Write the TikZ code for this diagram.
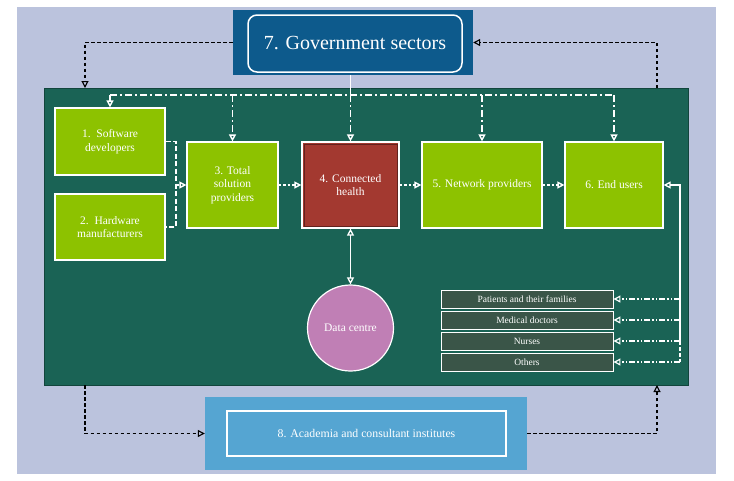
\documentclass[tikz,border=0pt]{standalone}
\usepackage{fontspec}
\setmainfont{Liberation Serif}
\usetikzlibrary{arrows.meta}
\definecolor{bgl}{HTML}{BBC3DD}
\definecolor{panel}{HTML}{1A6355}
\definecolor{lime}{HTML}{8DC200}
\definecolor{redbox}{HTML}{A33930}
\definecolor{govblue}{HTML}{0D5A8C}
\definecolor{acblue}{HTML}{55A5D2}
\definecolor{listc}{HTML}{3A5548}
\definecolor{dcpink}{HTML}{C07FB5}
\tikzset{
  lbox/.style={draw=white, line width=1.2pt, fill=lime, text=white, align=center, inner sep=2pt, font=\fontsize{11.5}{13.5}\selectfont},
  listbox/.style={draw=white, line width=0.9pt, fill=listc, text=white, minimum width=172, minimum height=18, inner sep=0pt, font=\fontsize{9.5}{10}\selectfont},
  arr/.style={-{Triangle[open,length=7pt,width=7pt]}},
  blk/.style={black, line width=1.1pt, dash pattern=on 3.5pt off 2.5pt},
  wdash/.style={white, line width=1.4pt, dash pattern=on 7pt off 3pt on 2pt off 3pt},
  wdot/.style={white, line width=1.4pt, dash pattern=on 2.5pt off 2pt},
  wdd/.style={white, line width=1.2pt, dash pattern=on 6pt off 2pt on 1.5pt off 2pt on 1.5pt off 2pt},
  wsolid/.style={white, line width=1.3pt}
}
\begin{document}
\begin{tikzpicture}[x=1pt,y=-1pt]
\useasboundingbox (0,0) rectangle (734,480);
\fill[white] (0,0) rectangle (734,480);
\fill[bgl] (17,7) rectangle (716,474);

% panel
\node[fill=panel, draw=panel!70!black, line width=1pt, minimum width=644, minimum height=297, inner sep=0pt] (panel) at (366,236.5) {};

% government
\node[fill=govblue, minimum width=240, minimum height=65, inner sep=0pt] (govo) at (353,42.5) {};
\node[draw=white, line width=1.5pt, rounded corners=9pt, fill=govblue, minimum width=214, minimum height=57, inner sep=0pt, text=white, font=\fontsize{20}{23}\selectfont] (gov) at (355,43.5) {7. Government sectors};

% academia
\node[fill=acblue, minimum width=322, minimum height=73, inner sep=0pt] (acad) at (366,433.5) {};
\node[draw=white, line width=1.5pt, fill=acblue, minimum width=279, minimum height=45, inner sep=0pt, text=white, font=\fontsize{11.8}{13}\selectfont] (acadi) at (366.5,433.5) {8. Academia and consultant institutes};

% boxes
\node[lbox, minimum width=110, minimum height=67] (n1) at (110,141.5) {1.\ \ Software\\developers};
\node[lbox, minimum width=110, minimum height=66] (n2) at (110,227) {2.\ \ Hardware\\manufacturers};
\node[lbox, minimum width=91, minimum height=86] (n3) at (232.5,185) {3. Total\\solution\\providers};
\node[draw=white, line width=1.2pt, fill=redbox, text=white, align=center, minimum width=97, minimum height=86, inner sep=2pt, font=\fontsize{11.5}{13.5}\selectfont] (n4) at (350.5,185) {4. Connected\\health};
\draw[redbox!60!black, line width=0.6pt] ([shift={(2.5pt,-2.5pt)}]n4.north west) rectangle ([shift={(-2.5pt,2.5pt)}]n4.south east);
\node[lbox, minimum width=120, minimum height=86] (n5) at (482,185) {5. Network providers};
\node[lbox, minimum width=98, minimum height=86] (n6) at (614,185) {6. End users};

% data centre
\node[circle, draw=white, line width=1.2pt, fill=dcpink, minimum size=86, inner sep=0pt, text=white, font=\fontsize{11.5}{13}\selectfont] (dc) at (350.5,328) {Data centre};

% list
\node[listbox] (l1) at (527,299) {Patients and their families};
\node[listbox] (l2) at (527,320) {Medical doctors};
\node[listbox] (l3) at (527,341) {Nurses};
\node[listbox] (l4) at (527,362) {Others};

% coordinates
\coordinate (pT1) at (85,88);
\coordinate (pT2) at (657,88);
\coordinate (pB1) at (85,385);
\coordinate (pB2) at (657,385);
\coordinate (dL) at (110,95);
\coordinate (dR) at (614,95);
\coordinate (d3) at (232.5,95);
\coordinate (d4) at (350.5,95);
\coordinate (d5) at (482,95);
\coordinate (brk) at (176,185);
\coordinate (rTop) at (680,185);
\coordinate (rMid) at (680,341);
\coordinate (rBot) at (680,362);

% black connectors
\draw[blk, arr] (govo.west) -| (pT1);
\draw[blk, arr] (pT2) |- (govo.east);
\draw[blk, arr] (pB1) |- (acad.west);
\draw[blk, arr] (acad.east) -| (pB2);

% distribution
\draw[wsolid] (d4 |- govo.south) -- (d4);
\draw[wdash] (dL) -- (dR);
\draw[wdash, arr] (dL) -- (n1.north);
\draw[wdash, arr] (d3) -- (n3.north);
\draw[wdash, arr] (d4) -- (n4.north);
\draw[wdash, arr] (d5) -- (n5.north);
\draw[wdash, arr] (dR) -- (n6.north);

% bracket
\draw[white, line width=1.3pt, dash pattern=on 5pt off 2.5pt] (n1.east) -| (brk) |- (n2.east);
\draw[wdot, arr] (brk) -- (n3.west);
\draw[wdot, arr] (n3.east) -- (n4.west);
\draw[wdot, arr] (n4.east) -- (n5.west);
\draw[wdot, arr] (n5.east) -- (n6.west);

% data centre link
\draw[wsolid, {Triangle[open,length=7pt,width=7pt]}-{Triangle[open,length=7pt,width=7pt]}] (n4.south) -- (dc.north);

% end users to lists
\draw[wsolid, arr] (rMid) -- (rTop) -- (n6.east);
\draw[white, line width=1.2pt, dash pattern=on 4pt off 2pt] (rMid) -- (rBot);
\draw[wdd, arr] (680,299) -- (l1.east);
\draw[wdd, arr] (680,320) -- (l2.east);
\draw[wdd, arr] (rMid) -- (l3.east);
\draw[wdd, arr] (rBot) -- (l4.east);
\end{tikzpicture}
\end{document}
